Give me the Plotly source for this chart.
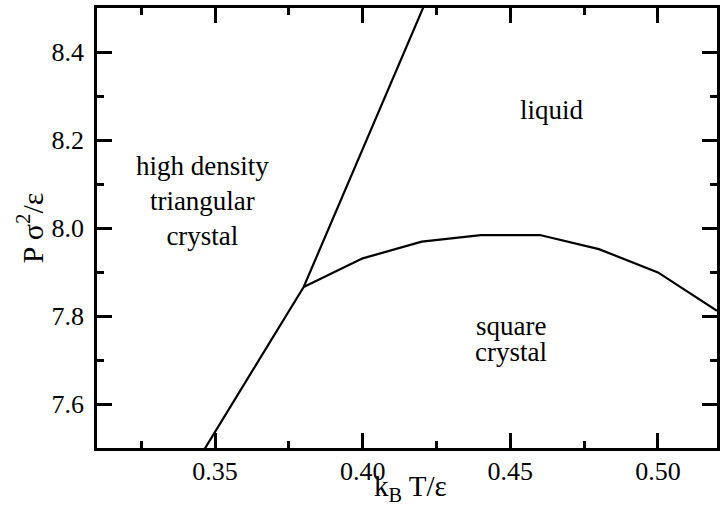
import plotly.graph_objects as go

# Melting line (triangular crystal / other phases)
melt_T = [0.34, 0.38, 0.43]
melt_P = [7.427, 7.866, 8.65]

# Square crystal / liquid boundary
sq_T = [0.38, 0.40, 0.42, 0.44, 0.46, 0.48, 0.50, 0.52]
sq_P = [7.866, 7.931, 7.969, 7.984, 7.984, 7.952, 7.899, 7.812]

# Region labels
lab_text = ["liquid", "high density<br>triangular<br>crystal", "square", "crystal"]
lab_T = [0.4641, 0.3457, 0.4503, 0.4503]
lab_P = [8.268, 8.061, 7.777, 7.718]

FONT = "Liberation Serif"

fig = go.Figure()
fig.add_trace(go.Scatter(x=melt_T, y=melt_P, mode="lines",
                         line=dict(color="black", width=2.2), showlegend=False))
fig.add_trace(go.Scatter(x=sq_T, y=sq_P, mode="lines",
                         line=dict(color="black", width=2.2), showlegend=False))

for t, x, y in zip(lab_text, lab_T, lab_P):
    fig.add_annotation(x=x, y=y, xref="x", yref="y", text=t, showarrow=False,
                       font=dict(family=FONT, size=27, color="black"),
                       align="center", xanchor="center", yanchor="middle")

# Axis titles (plot area: x 97..720 px, y 8..448 px)
fig.add_annotation(x=(412 - 97) / 623, y=-(488 - 448) / 440, xref="paper", yref="paper",
                   text="k<sub>B</sub> T/ε", showarrow=False,
                   xanchor="center", yanchor="middle",
                   font=dict(family=FONT, size=29, color="black"))
fig.add_annotation(x=-(97 - 30) / 623, y=0.5, xref="paper", yref="paper",
                   text="P σ<sup>2</sup>/ε", textangle=-90, showarrow=False,
                   xanchor="center", yanchor="middle",
                   font=dict(family=FONT, size=30, color="black"))

axis_common = dict(
    showgrid=False, zeroline=False, showline=True, linecolor="black", linewidth=2.5,
    mirror="allticks", ticks="inside", ticklen=15, tickwidth=2.5, tickcolor="black",
    tickfont=dict(family=FONT, size=26, color="black"),
)

fig.update_xaxes(range=[0.31, 0.52], tick0=0.35, dtick=0.05, tickformat=".2f",
                 minor=dict(dtick=0.025, ticks="inside", ticklen=7, tickwidth=2.5, tickcolor="black"),
                 ticklabelstandoff=-2,
                 **axis_common)
fig.update_yaxes(range=[7.5, 8.5], tick0=7.6, dtick=0.2, tickformat=".1f",
                 minor=dict(dtick=0.1, ticks="inside", ticklen=7, tickwidth=2.5, tickcolor="black"),
                 ticklabelstandoff=5,
                 **axis_common)

fig.update_layout(
    width=722, height=519,
    margin=dict(l=97, r=2, t=8, b=71),
    paper_bgcolor="white", plot_bgcolor="white",
    font=dict(family=FONT, color="black"),
)

fig.write_html("out.html")
